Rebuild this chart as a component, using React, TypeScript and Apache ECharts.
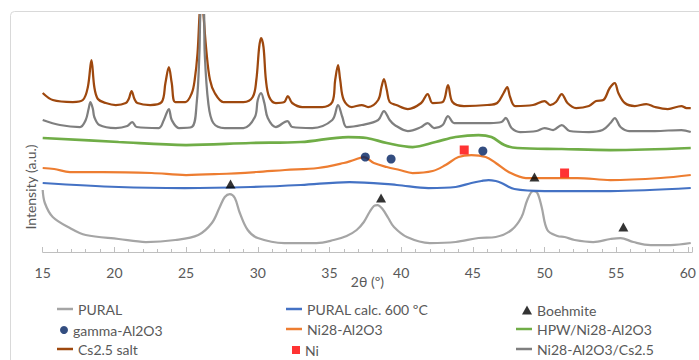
import React, { useEffect, useRef } from "react";
import * as echarts from "echarts";

// 2θ (deg), intensity (arbitrary units, offset per pattern)
const pural: number[][] = [
  [15, 62], [15.15, 49], [15.7, 35], [16.9, 24], [18.0, 17], [20.3, 13], [22.2, 10], [24.25, 12],
  [25.85, 17], [26.8, 29], [27.35, 45], [27.7, 55], [28.05, 58], [28.4, 54], [28.75, 39], [29.3, 22],
  [30.0, 14], [31.85, 9], [34.1, 9], [35.3, 12], [36.2, 16], [36.9, 22], [37.4, 30], [37.8, 40],
  [38.1, 46], [38.35, 47], [38.7, 43], [39.1, 34], [39.5, 25], [40.4, 15], [42.0, 9], [43.8, 10],
  [45.4, 14], [46.6, 15], [47.7, 22], [48.4, 35], [48.8, 52], [49.2, 61], [49.5, 59], [49.8, 45],
  [50.2, 22], [50.9, 16], [51.4, 15], [52.1, 12], [53.4, 10], [54.6, 13], [55.3, 14], [56.2, 10],
  [57.4, 7], [58.8, 7], [60.2, 9],
];
const puralCalc: number[][] = [
  [15, 69], [20.3, 65], [24.9, 64], [29.5, 65], [33.0, 67], [36.4, 70], [39.7, 67], [41.9, 64],
  [43.8, 65], [44.9, 69], [45.6, 71], [46.1, 72], [46.6, 71], [47.0, 69], [47.9, 63], [50.0, 61],
  [54.6, 61], [60.2, 64],
];
const ni28: number[][] = [
  [15, 84], [15.8, 83], [16.9, 80], [19.2, 80], [22.6, 79], [25.0, 77], [27.3, 78], [29.9, 80],
  [31.9, 82], [34.2, 84], [36.0, 89], [36.7, 92], [37.4, 95], [38.1, 89], [39.0, 85], [39.9, 82],
  [40.8, 79], [42.2, 81], [43.1, 87], [44.0, 95], [44.9, 97], [45.9, 95], [46.6, 89], [47.5, 80],
  [48.7, 74], [50, 74], [52.3, 74], [54.6, 72], [58.1, 74], [60.2, 77],
];
const hpwNi28: number[][] = [
  [15, 114], [20.3, 110], [25.0, 107], [29.5, 109], [33.0, 110], [36.3, 115], [37.6, 114],
  [39.0, 109], [40.8, 105], [42.4, 110], [43.8, 115], [45.4, 117], [46.3, 115], [47.2, 107],
  [48.1, 104], [51.2, 103], [54.6, 102], [60.2, 104],
];
const cs25: number[][] = [
  [15, 159], [15.7, 152], [17.1, 150], [17.8, 152], [18.15, 165], [18.4, 192], [18.6, 165],
  [18.85, 153], [19.4, 149], [20.1, 147], [20.8, 149], [21.0, 153], [21.2, 161], [21.4, 153],
  [21.6, 149], [22.5, 147], [23.3, 150], [23.56, 169], [23.8, 185], [24.0, 169], [24.25, 150],
  [24.95, 150], [25.4, 159], [25.6, 172], [25.8, 199], [25.95, 240], [26.08, 262], [26.2, 240],
  [26.43, 199], [26.67, 172], [27.0, 159], [27.6, 150], [28.05, 150], [29.0, 150], [29.65, 155],
  [29.9, 172], [30.1, 205], [30.23, 214], [30.4, 205], [30.57, 172], [30.8, 155], [31.26, 149],
  [31.85, 150], [32.1, 156], [32.4, 149], [33.1, 145], [34.5, 145], [35.2, 150], [35.4, 172],
  [35.6, 187], [35.75, 172], [36.0, 152], [36.55, 145], [37.25, 147], [37.7, 145], [38.4, 152],
  [38.63, 165], [38.8, 173], [39.0, 162], [39.2, 150], [39.66, 147], [40.47, 143], [41.4, 149],
  [41.85, 158], [42.2, 149], [42.9, 150], [43.27, 167], [43.58, 150], [44.38, 146], [46.0, 147],
  [46.7, 149], [47.15, 159], [47.4, 165], [47.6, 155], [47.95, 146], [49.2, 147], [50.0, 151],
  [50.4, 147], [50.8, 150], [51.2, 158], [51.6, 149], [52.2, 144], [53.1, 146], [53.6, 151],
  [54.1, 152], [54.55, 164], [54.9, 169], [55.15, 159], [55.6, 149], [56.3, 146], [57.1, 148],
  [57.7, 145], [58.6, 143], [59.55, 146], [59.9, 144], [60.2, 144],
];
const ni28Cs25: number[][] = [
  [15, 132], [16.2, 127], [17.6, 125], [18.0, 132], [18.2, 143], [18.33, 150], [18.5, 143],
  [18.6, 135], [18.95, 127], [20.1, 124], [20.9, 126], [21.25, 130], [21.55, 125], [23.1, 124],
  [23.45, 132], [23.8, 143], [24.0, 132], [24.5, 124], [25.4, 125], [25.74, 149], [25.93, 199],
  [26.0, 240], [26.12, 252], [26.25, 240], [26.3, 199], [26.55, 149], [26.9, 129], [27.7, 124],
  [29.0, 124], [29.8, 135], [30.0, 152], [30.23, 159], [30.46, 149], [30.7, 134], [31.26, 125],
  [32.07, 131], [32.4, 125], [33.8, 124], [35.2, 132], [35.6, 147], [35.9, 135], [36.2, 125],
  [37.25, 127], [38.4, 132], [38.8, 141], [39.2, 132], [39.55, 127], [40.47, 121], [41.4, 125],
  [41.85, 129], [42.3, 124], [42.9, 127], [43.27, 136], [43.7, 129], [45.1, 129], [46.2, 129],
  [47.0, 130], [47.3, 134], [47.7, 124], [48.3, 120], [49.45, 121], [50.0, 124], [50.6, 122],
  [51.2, 127], [51.75, 121], [53.1, 120], [54.05, 122], [54.6, 129], [54.9, 134], [55.3, 125],
  [55.9, 121], [57.7, 121], [59.55, 122], [60.2, 120],
];
const boehmite: number[][] = [[28.1, 68], [38.6, 54], [49.3, 75], [55.5, 25]];
const gammaAl2O3: number[][] = [[37.5, 95], [39.3, 93], [45.7, 101]];
const niMarks: number[][] = [[44.4, 102], [51.4, 79]];

const xTicks = [15, 20, 25, 30, 35, 40, 45, 50, 55, 60];

const FONT = "Lato, 'Open Sans', sans-serif";
const TXT = "#595959";
const FS = 14;

export default function App() {
  const ref = useRef<HTMLDivElement>(null);
  useEffect(() => {
    document.body.style.margin = "0";
    const chart = echarts.init(ref.current!, null, { renderer: "svg" });
    const lineSeries = (name: string, data: number[][], color: string, width = 2) => ({
      name,
      type: "line",
      data,
      showSymbol: false,
      symbol: "none",
      smooth: 0.35,
      lineStyle: { color, width },
      itemStyle: { color },
      clip: true,
    });
    const baseLegend = (name: string, left: number, top: number) => ({
      data: [name],
      left,
      top,
      padding: 0,
      selectedMode: false,
      textStyle: { color: TXT, fontSize: FS, fontFamily: FONT },
    });
    const lineLegend = (name: string, left: number, top: number) => ({
      ...baseLegend(name, left, top),
      icon: "rect",
      itemWidth: 16,
      itemHeight: 2.5,
    });
    const symLegend = (name: string, left: number, top: number, icon: string, w: number, h: number) => ({
      ...baseLegend(name, left, top),
      icon,
      itemWidth: w,
      itemHeight: h,
    });
    const rows = [302, 322, 342];
    chart.setOption({
      animation: false,
      textStyle: { fontFamily: FONT },
      grid: { left: 42.7, right: 0, top: 15, bottom: 108 },
      xAxis: {
        type: "value",
        min: 15,
        max: 60.3,
        interval: 5,
        name: "2θ (º)",
        nameLocation: "middle",
        nameGap: 22,
        nameMoveOverlap: false,
        nameTextStyle: { color: TXT, fontSize: FS, fontFamily: FONT },
        axisLine: { show: true, lineStyle: { color: "#BFBFBF", width: 1 } },
        axisTick: { show: true, inside: true, length: 5, lineStyle: { color: "#BFBFBF" } },
        minorTick: { show: true, splitNumber: 5, length: 3, lineStyle: { color: "#BFBFBF" } },
        splitLine: { show: false },
        axisLabel: {
          color: TXT,
          fontSize: FS,
          fontFamily: FONT,
          margin: 13,
          formatter: (v: number) => (xTicks.includes(v) ? String(v) : ""),
        },
      },
      yAxis: {
        type: "value",
        min: 0,
        max: 237,
        axisLine: { show: false },
        axisTick: { show: false },
        axisLabel: { show: false },
        splitLine: { show: false },
      },
      graphic: [
        {
          type: "rect",
          shape: { x: 10.5, y: 11.5, width: 900, height: 500, r: 4 },
          style: { fill: "none", stroke: "#D9D9D9", lineWidth: 1 },
          silent: true,
          z: -1,
        },
        {
          type: "text",
          x: 30,
          y: 187,
          rotation: Math.PI / 2,
          style: {
            text: "Intensity (a.u.)",
            fill: TXT,
            fontSize: FS,
            fontFamily: FONT,
            align: "center",
            verticalAlign: "middle",
          },
        },
      ],
      legend: [
        lineLegend("PURAL", 57, rows[0]),
        lineLegend("PURAL calc. 600 ºC", 286, rows[0]),
        symLegend("Boehmite", 522, rows[0] + 1, "triangle", 10, 9),
        symLegend("gamma-Al2O3", 60, rows[1] + 1, "circle", 8, 9),
        lineLegend("Ni28-Al2O3", 286, rows[1]),
        lineLegend("HPW/Ni28-Al2O3", 516, rows[1]),
        lineLegend("Cs2.5 salt", 57, rows[2]),
        symLegend("Ni", 292, rows[2] + 1, "rect", 8, 8),
        lineLegend("Ni28-Al2O3/Cs2.5", 516, rows[2]),
      ],
      series: [
        lineSeries("PURAL", pural, "#A5A5A5", 2.25),
        lineSeries("PURAL calc. 600 ºC", puralCalc, "#4472C4", 2.25),
        lineSeries("Ni28-Al2O3", ni28, "#ED7D31", 2.25),
        lineSeries("HPW/Ni28-Al2O3", hpwNi28, "#70AD47", 2.75),
        lineSeries("Cs2.5 salt", cs25, "#9E480E", 2.25),
        lineSeries("Ni28-Al2O3/Cs2.5", ni28Cs25, "#7F7F7F", 2.25),
        {
          name: "Boehmite",
          type: "scatter",
          data: boehmite,
          symbol: "triangle",
          symbolSize: [10, 9],
          itemStyle: { color: "#000000" },
          z: 5,
        },
        {
          name: "gamma-Al2O3",
          type: "scatter",
          data: gammaAl2O3,
          symbol: "circle",
          symbolSize: 9,
          itemStyle: { color: "#002060" },
          z: 5,
        },
        {
          name: "Ni",
          type: "scatter",
          data: niMarks,
          symbol: "rect",
          symbolSize: 9,
          itemStyle: { color: "#FF0000" },
          z: 5,
        },
      ],
    });
    return () => chart.dispose();
  }, []);
  return <div ref={ref} style={{ width: 699, height: 360 }} />;
}
